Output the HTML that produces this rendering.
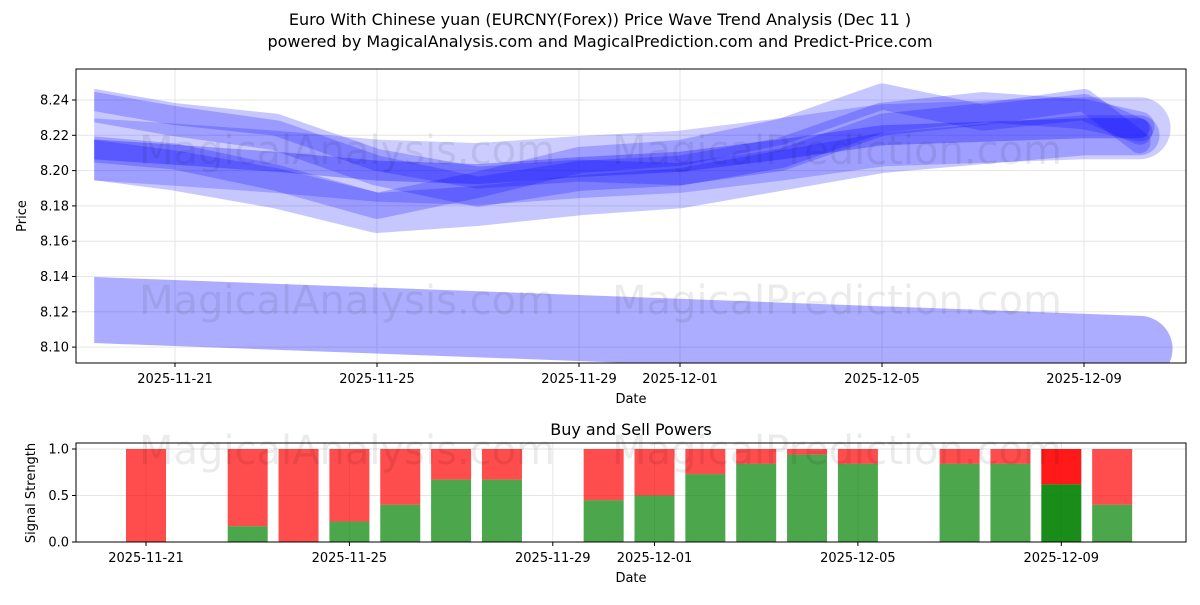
<!DOCTYPE html>
<html><head><meta charset="utf-8"><style>
body{margin:0;background:#fff;font-family:"Liberation Sans",sans-serif;}
svg text{font-family:"DejaVu Sans","Liberation Sans",sans-serif;}
</style></head><body>
<svg id="c" width="1200" height="600" xmlns="http://www.w3.org/2000/svg">
<text x="600" y="25" text-anchor="middle" font-size="16">Euro With Chinese yuan (EURCNY(Forex)) Price Wave Trend Analysis (Dec 11 )</text>
<text x="600" y="47" text-anchor="middle" font-size="16">powered by MagicalAnalysis.com and MagicalPrediction.com and Predict-Price.com</text>
<g id="top"></g><g id="bot"></g>
</svg>
<script>
// ---- data ----
const waveDays = [-1.6, 0, 2, 4, 6, 8, 10, 12, 14, 16, 18, 19.1]; // days from 2025-11-21
const waveA = [8.212,8.209,8.205,8.200,8.198,8.202,8.205,8.212,8.220,8.222,8.224,8.224];
const waveB = [8.236,8.228,8.220,8.200,8.188,8.197,8.200,8.210,8.230,8.236,8.232,8.225];
const waveC = [8.212,8.208,8.196,8.180,8.192,8.206,8.210,8.222,8.242,8.230,8.236,8.222];
const waveD = [8.240,8.232,8.226,8.206,8.196,8.200,8.198,8.206,8.226,8.232,8.240,8.216];
const waveE = [8.206,8.200,8.190,8.176,8.180,8.186,8.190,8.200,8.210,8.215,8.220,8.220];
const lowDays = [-1.6, 19.1];
const lowWave = [8.121, 8.099];
const priceTicks = [8.10,8.12,8.14,8.16,8.18,8.20,8.22,8.24];
const dateTickDays = [0,4,8,10,14,18];
const dateTickLabels = ["2025-11-21","2025-11-25","2025-11-29","2025-12-01","2025-12-05","2025-12-09"];
const barDays = [0,2,3,4,5,6,7,9,10,11,12,13,14,16,17,18,19];
const buyPower = [0,0.17,0,0.22,0.40,0.67,0.67,0.45,0.50,0.73,0.84,0.94,0.84,0.84,0.84,0.62,0.40];
const strengthTicks = [0,0.5,1.0];

const NS="http://www.w3.org/2000/svg";
function mk(p,tag,attrs){const e=document.createElementNS(NS,tag);for(const k in attrs)e.setAttribute(k,attrs[k]);p.appendChild(e);return e;}
const topG=document.getElementById('top'), botG=document.getElementById('bot');
const TL=76,TR=1186,TT=69,TB=363;
const xT=d=>175+d*50.5;
const yT=v=>100+(8.24-v)/0.02*35.3;
const BL=76,BR=1186,BT=443,BB=542;
const xB=d=>146+d*50.85;
const yB=v=>542-v*93;

priceTicks.forEach(v=>{const y=yT(v);
 let g=mk(topG,'line',{x1:TL,x2:TR,y1:y,y2:y,stroke:'#e6e6e6','stroke-width':1});
 
 mk(topG,'line',{x1:TL-4,x2:TL,y1:y,y2:y,stroke:'#000'});
 let t=mk(topG,'text',{x:TL-7,y:y+4.5,'text-anchor':'end','font-size':13});t.textContent=v.toFixed(2);
 });
dateTickDays.forEach((d,i)=>{const x=xT(d);
 mk(topG,'line',{x1:x,x2:x,y1:TT,y2:TB,stroke:'#e6e6e6'});
 mk(topG,'line',{x1:x,x2:x,y1:TB,y2:TB+4,stroke:'#000'});
 let t=mk(topG,'text',{x:x,y:TB+20,'text-anchor':'middle','font-size':13});t.textContent=dateTickLabels[i];
 });
[[347,150,'MagicalAnalysis.com'],[837,150,'MagicalPrediction.com'],[347,300,'MagicalAnalysis.com'],[837,300,'MagicalPrediction.com'],[347,450,'MagicalAnalysis.com'],[837,450,'MagicalPrediction.com']].forEach(w=>{
 let t=mk(document.getElementById('c'),'text',{x:w[0],y:w[1]+14,'text-anchor':'middle','font-size':40,fill:'#000','fill-opacity':0.08});t.textContent=w[2];
 });
const defs=mk(topG,'defs',{});const cp=mk(defs,'clipPath',{id:'cpT'});
mk(cp,'rect',{x:xT(-1.6),y:TT,width:TR-xT(-1.6),height:TB-TT});
const wg=mk(topG,'g',{'clip-path':'url(#cpT)'});
function band(days,vals,w,op,name){
 const pts=days.map((d,i)=>xT(d)+','+yT(vals[i])).join(' ');
 let p=mk(wg,'polyline',{points:pts,fill:'none',stroke:'#0000ff','stroke-opacity':op,'stroke-width':w,'stroke-linejoin':'round','stroke-linecap':'round'});
 
}
band(lowDays,lowWave,66,0.32,'low-wave-band');
band(waveDays,waveA,62,0.2,'wave-band-a');
band(waveDays,waveE,40,0.22,'wave-band-e');
band(waveDays,waveB,30,0.22,'wave-band-b');
band(waveDays,waveC,26,0.22,'wave-band-c');
band(waveDays,waveD,22,0.22,'wave-band-d');
band(waveDays,waveA,20,0.28,'wave-band-core');
let fr=mk(topG,'rect',{x:TL,y:TT,width:TR-TL,height:TB-TT,fill:'none',stroke:'#000'});

let yl=mk(topG,'text',{x:26,y:216,'text-anchor':'middle','font-size':13,transform:'rotate(-90 26 216)'});yl.textContent='Price';

let xl=mk(topG,'text',{x:631,y:403,'text-anchor':'middle','font-size':13});xl.textContent='Date';


strengthTicks.forEach(v=>{const y=yB(v);
 mk(botG,'line',{x1:BL,x2:BR,y1:y,y2:y,stroke:'#e6e6e6'});
 mk(botG,'line',{x1:BL-4,x2:BL,y1:y,y2:y,stroke:'#000'});
 let t=mk(botG,'text',{x:BL-7,y:y+4.5,'text-anchor':'end','font-size':13});t.textContent=v.toFixed(1);
 });
dateTickDays.forEach((d,i)=>{const x=xB(d);
 mk(botG,'line',{x1:x,x2:x,y1:BT,y2:BB,stroke:'#e6e6e6'});
 mk(botG,'line',{x1:x,x2:x,y1:BB,y2:BB+4,stroke:'#000'});
 let t=mk(botG,'text',{x:x,y:BB+20,'text-anchor':'middle','font-size':13});t.textContent=dateTickLabels[i];
 });
barDays.forEach((d,i)=>{const x=xB(d)-20,g=buyPower[i];const last=i===barDays.length-2;
 let r=mk(botG,'rect',{x:x,y:yB(1),width:40,height:yB(g)-yB(1),fill:'#ff0000','fill-opacity':last?0.9:0.7});
 
 let b=mk(botG,'rect',{x:x,y:yB(g),width:40,height:yB(0)-yB(g),fill:'#008000','fill-opacity':last?0.9:0.7});
 });
let fr2=mk(botG,'rect',{x:BL,y:BT,width:BR-BL,height:BB-BT,fill:'none',stroke:'#000'});

let bt=mk(botG,'text',{x:631,y:435,'text-anchor':'middle','font-size':16});bt.textContent='Buy and Sell Powers';

let yl2=mk(botG,'text',{x:35,y:493,'text-anchor':'middle','font-size':13,transform:'rotate(-90 35 493)'});yl2.textContent='Signal Strength';

let xl2=mk(botG,'text',{x:631,y:582,'text-anchor':'middle','font-size':13});xl2.textContent='Date';

</script>
</body></html>
